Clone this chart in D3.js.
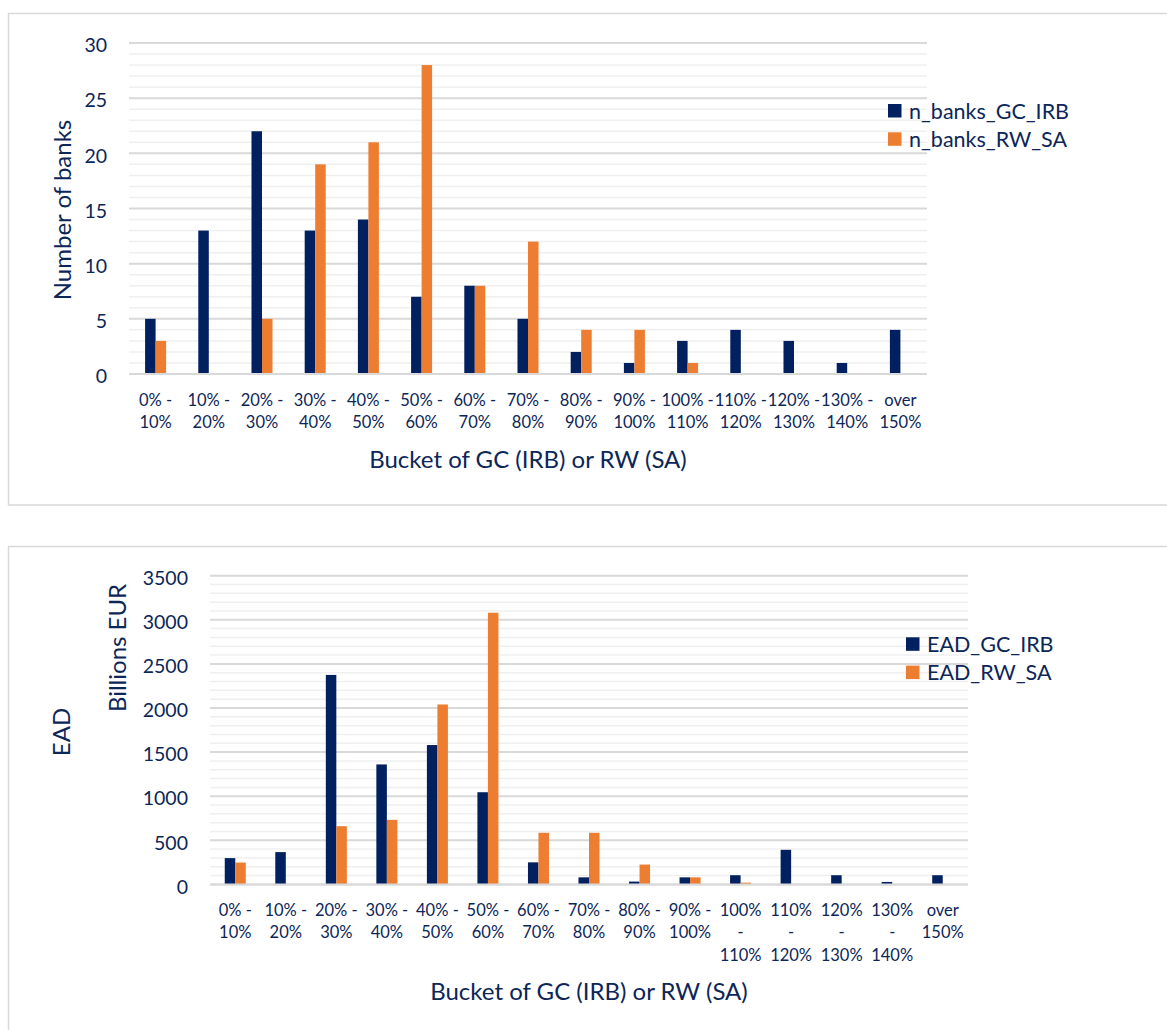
<!DOCTYPE html>
<html>
<head>
<meta charset="utf-8">
<script src="https://cdn.jsdelivr.net/npm/d3@7"></script>
<style>
  html, body { margin: 0; padding: 0; background: #ffffff; }
  svg { display: block; font-family: Lato, "Open Sans", "Noto Sans", sans-serif; }
</style>
</head>
<body>
<svg id="chart" width="1167" height="1030"></svg>
<script>
// ---------- DATA ----------
const categories = ["0% - 10%", "10% - 20%", "20% - 30%", "30% - 40%", "40% - 50%",
  "50% - 60%", "60% - 70%", "70% - 80%", "80% - 90%", "90% - 100%",
  "100% - 110%", "110% - 120%", "120% - 130%", "130% - 140%", "over 150%"];

const topTickLabels = [["0% -", "10%"], ["10% -", "20%"], ["20% -", "30%"], ["30% -", "40%"],
  ["40% -", "50%"], ["50% -", "60%"], ["60% -", "70%"], ["70% -", "80%"], ["80% -", "90%"],
  ["90% -", "100%"], ["100% -", "110%"], ["110% -", "120%"], ["120% -", "130%"],
  ["130% -", "140%"], ["over", "150%"]];

const bottomTickLabels = [["0% -", "10%"], ["10% -", "20%"], ["20% -", "30%"], ["30% -", "40%"],
  ["40% -", "50%"], ["50% -", "60%"], ["60% -", "70%"], ["70% -", "80%"], ["80% -", "90%"],
  ["90% -", "100%"], ["100%", "-", "110%"], ["110%", "-", "120%"], ["120%", "-", "130%"],
  ["130%", "-", "140%"], ["over", "150%"]];

const nBanksGC = [5, 13, 22, 13, 14, 7, 8, 5, 2, 1, 3, 4, 3, 1, 4];
const nBanksRW = [3, 0, 5, 19, 21, 28, 8, 12, 4, 4, 1, 0, 0, 0, 0];

const eadGC = [298, 366, 2375, 1360, 1580, 1045, 250, 80, 32, 80, 104, 392, 104, 28, 104];
const eadRW = [248, 0, 660, 732, 2040, 3080, 585, 585, 225, 80, 20, 0, 0, 0, 0];

const topYTicks = [0, 5, 10, 15, 20, 25, 30];
const bottomYTicks = [0, 500, 1000, 1500, 2000, 2500, 3000, 3500];

const topSeriesNames = ["n_banks_GC_IRB", "n_banks_RW_SA"];
const bottomSeriesNames = ["EAD_GC_IRB", "EAD_RW_SA"];

// ---------- STYLE ----------
const NAVY = "#002060";
const ORANGE = "#ED7D31";
const TEXT = "#0c2658";
const MAJOR_GRID = "#d9d9d9";
const MINOR_GRID = "#efefef";
const FRAME = "#d9d9d9";

const svg = d3.select("#chart");

function drawChart(cfg) {
  const g = svg.append("g");

  // frame
  g.append("rect")
    .attr("x", cfg.frame.x).attr("y", cfg.frame.y)
    .attr("width", cfg.frame.w).attr("height", cfg.frame.h)
    .attr("fill", "#fff").attr("stroke", FRAME).attr("stroke-width", 1.5);

  const x0 = d3.scaleBand().domain(categories).range([cfg.left, cfg.right]).padding(0);
  const groupW = x0.bandwidth() * cfg.groupFrac;
  const x1 = d3.scaleBand().domain([0, 1]).range([0, groupW]).padding(0);
  const y = d3.scaleLinear().domain([0, cfg.yMax]).range([cfg.bottom, cfg.top]);

  // minor gridlines
  const minorVals = d3.range(0, cfg.yMax + cfg.minor / 2, cfg.minor)
    .filter(v => Math.abs(v / cfg.major - Math.round(v / cfg.major)) > 1e-6);
  g.append("g").selectAll("line").data(minorVals).join("line")
    .attr("x1", cfg.left).attr("x2", cfg.right)
    .attr("y1", d => y(d)).attr("y2", d => y(d))
    .attr("stroke", MINOR_GRID).attr("stroke-width", 1.5);

  // major gridlines
  g.append("g").selectAll("line").data(cfg.yTicks).join("line")
    .attr("x1", cfg.left).attr("x2", cfg.right)
    .attr("y1", d => y(d)).attr("y2", d => y(d))
    .attr("stroke", MAJOR_GRID).attr("stroke-width", 2);

  // bars
  const series = [cfg.gc, cfg.rw];
  const colors = [NAVY, ORANGE];
  series.forEach((vals, si) => {
    g.append("g").selectAll("rect").data(vals).join("rect")
      .attr("x", (d, i) => x0(categories[i]) + (x0.bandwidth() - groupW) / 2 + x1(si))
      .attr("y", d => y(d))
      .attr("width", x1.bandwidth())
      .attr("height", d => cfg.bottom - y(d))
      .attr("fill", colors[si]);
  });

  // baseline
  g.append("line")
    .attr("x1", cfg.left).attr("x2", cfg.right)
    .attr("y1", y(0)).attr("y2", y(0))
    .attr("stroke", MAJOR_GRID).attr("stroke-width", 2);

  // y axis
  const yAxisG = g.append("g").attr("transform", `translate(${cfg.left},0)`)
    .call(d3.axisLeft(y).tickValues(cfg.yTicks).tickFormat(d3.format("d")).tickSize(0).tickPadding(22));
  yAxisG.select(".domain").remove();
  yAxisG.selectAll(".tick text")
    .attr("fill", TEXT).attr("font-size", cfg.yTickSize).attr("font-family", "Lato, sans-serif")
    .attr("dy", "0.45em");

  // x axis
  const xAxisG = g.append("g").attr("transform", `translate(0,${cfg.bottom})`)
    .call(d3.axisBottom(x0).tickSize(0).tickFormat(""));
  xAxisG.select(".domain").remove();
  xAxisG.selectAll(".tick text").each(function (d, i) {
    const t = d3.select(this)
      .attr("fill", TEXT).attr("font-size", cfg.tickSize).attr("font-family", "Lato, sans-serif")
      .attr("y", cfg.xLabelY).attr("dy", 0);
    t.text(null);
    cfg.tickLabels[i].forEach((line, li) => {
      t.append("tspan").attr("x", 0).attr("y", cfg.xLabelY + li * cfg.lineGap).text(line);
    });
  });

  // x axis title
  g.append("text")
    .attr("x", (cfg.left + cfg.right) / 2).attr("y", cfg.xTitleY)
    .attr("text-anchor", "middle").attr("fill", TEXT)
    .attr("font-size", cfg.titleSize)
    .text("Bucket of GC (IRB) or RW (SA)");

  // y titles
  cfg.yTitles.forEach(tt => {
    g.append("text")
      .attr("transform", `translate(${tt.x},${tt.y}) rotate(-90)`)
      .attr("text-anchor", "middle").attr("dominant-baseline", "central")
      .attr("fill", TEXT).attr("font-size", cfg.titleSize)
      .text(tt.text);
  });

  // legend
  const lg = g.append("g");
  cfg.seriesNames.forEach((name, i) => {
    const yy = cfg.legend.y + i * cfg.legend.gap;
    lg.append("rect").attr("x", cfg.legend.x).attr("y", yy)
      .attr("width", cfg.legend.sq).attr("height", cfg.legend.sq)
      .attr("fill", colors[i]);
    lg.append("text").attr("x", cfg.legend.x + cfg.legend.sq + 7.5)
      .attr("y", yy + cfg.legend.sq / 2)
      .attr("dominant-baseline", "central")
      .attr("fill", TEXT).attr("font-size", cfg.legendSize)
      .text(name);
  });
}

drawChart({
  frame: { x: 8.5, y: 13.5, w: 1180, h: 491.5 },
  left: 129, right: 927, top: 43, bottom: 374,
  yMax: 30, major: 5, minor: 1, yTicks: topYTicks,
  groupFrac: 0.395,
  gc: nBanksGC, rw: nBanksRW,
  tickLabels: topTickLabels, tickSize: 16.5, yTickSize: 19.5,
  xLabelY: 32, lineGap: 21.5,
  xTitleY: 468, titleSize: 24,
  yTitles: [{ x: 61, y: 210, text: "Number of banks" }],
  seriesNames: topSeriesNames,
  legend: { x: 888, y: 104, sq: 13.5, gap: 28.3 },
  legendSize: 21.5
});

drawChart({
  frame: { x: 8.5, y: 546.5, w: 1180, h: 520 },
  left: 210, right: 968, top: 575.7, bottom: 884.4,
  yMax: 3500, major: 500, minor: 100, yTicks: bottomYTicks,
  groupFrac: 0.416,
  gc: eadGC, rw: eadRW,
  tickLabels: bottomTickLabels, tickSize: 16.5, yTickSize: 19.5,
  xLabelY: 31.5, lineGap: 22.5,
  xTitleY: 1000, titleSize: 24,
  yTitles: [{ x: 60, y: 732, text: "EAD" }, { x: 116, y: 648, text: "Billions EUR" }],
  seriesNames: bottomSeriesNames,
  legend: { x: 906, y: 637.3, sq: 13.5, gap: 28.3 },
  legendSize: 21.5
});
</script>
</body>
</html>
